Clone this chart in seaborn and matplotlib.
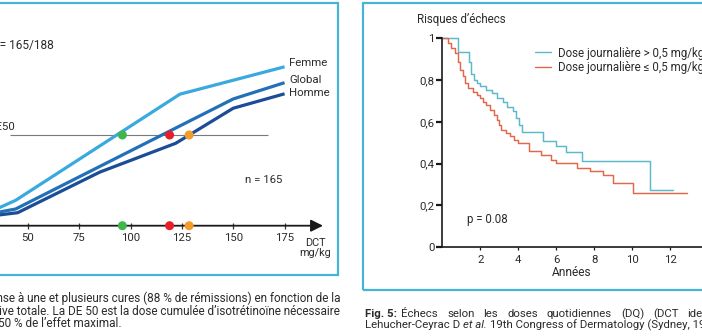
import numpy as np
import pandas as pd
import matplotlib
matplotlib.use("Agg")
import matplotlib.pyplot as plt
import seaborn as sns
from matplotlib.patches import Rectangle

# ---------------- Left chart (cumulative dose) data ----------------
dct_ticks = [50, 75, 100, 125, 150, 175]
femme_x = [30, 44, 124, 175]
femme_y = [6.0, 12.3, 63.8, 77.1]
global_x = [30, 44, 150, 175]
global_y = [5.5, 8.1, 61.5, 69.4]
homme_x = [30, 45, 85, 122, 150, 175]
homme_y = [4.5, 6.3, 26.0, 40.0, 57.0, 64.0]
series_names = ["Femme", "Global", "Homme"]
de50_level = 44
de50_doses = [96, 119, 128.5]

# ---------------- Right chart (Kaplan-Meier) data ----------------
high_t = [0, 0.84, 1.38, 1.52, 1.65, 1.8, 2.0, 2.3, 2.6, 2.9, 3.2, 3.4, 3.7,
          3.9, 4.05, 4.2, 5.3, 6.0, 6.5, 7.33, 10.93, 12.16]
high_s = [1.0, 0.936, 0.888, 0.83, 0.80, 0.785, 0.77, 0.753, 0.737, 0.714,
          0.697, 0.673, 0.65, 0.618, 0.586, 0.552, 0.506, 0.483, 0.456, 0.414,
          0.273, 0.273]
low_t = [0, 0.3, 0.47, 0.65, 0.84, 0.93, 1.1, 1.2, 1.37, 1.63, 1.8, 2.0, 2.15,
         2.3, 2.5, 2.7, 2.9, 3.0, 3.1, 3.35, 3.55, 3.75, 4.0, 4.55, 5.2, 5.7,
         6.0, 7.07, 7.77, 8.47, 9.0, 10.05, 12.86]
low_s = [1.0, 0.976, 0.952, 0.928, 0.888, 0.849, 0.817, 0.785, 0.761, 0.745,
         0.729, 0.714, 0.697, 0.682, 0.658, 0.634, 0.61, 0.586, 0.562, 0.547,
         0.53, 0.515, 0.499, 0.459, 0.443, 0.419, 0.403, 0.379, 0.363, 0.347,
         0.308, 0.257, 0.257]
km_labels = ["Dose journalière > 0,5 mg/kg", "Dose journalière ≤ 0,5 mg/kg"]
year_ticks = [2, 4, 6, 8, 10, 12]
risk_ticks = [0, 0.2, 0.4, 0.6, 0.8, 1.0]
risk_labels = ["0", "0,2", "0,4", "0,6", "0,8", "1"]

# ---------------- styling ----------------
sns.set_theme(style="white")
plt.rcParams["font.family"] = ["Roboto", "DejaVu Sans"]
plt.rcParams["text.color"] = "#2b2b2b"

W, H = 702, 336
fig = plt.figure(figsize=(W / 100, H / 100), dpi=100)
fig.patch.set_facecolor("white")
renderer = fig.canvas.get_renderer()

def fx(px):
    return px / W

def fy(py):
    return 1 - py / H

CAP = 8.2
CAP_L = 8.5
FRAME = "#45b4d5"
line_pal = {"Femme": "#39a9df", "Global": "#2170b8", "Homme": "#1b4c96"}
dot_pal = {"Femme": "#3db64b", "Global": "#e81f2a", "Homme": "#f59b2c"}

# frames
fig.add_artist(Rectangle((fx(-6), fy(275)), fx(338 + 6), 272 / H,
                         transform=fig.transFigure, fill=False,
                         ec=FRAME, lw=1.6))
fig.add_artist(Rectangle((fx(363), fy(290)), fx(360), 287 / H,
                         transform=fig.transFigure, fill=False,
                         ec=FRAME, lw=1.6))

# ---------------- left axes ----------------
ax1 = fig.add_axes([0, fy(225.7), 340 / W, 206.1 / H])
ax1.set_facecolor("none")
ax1.set_xlim(36.4, 202.0)
ax1.set_ylim(0, 100)
for sp in ax1.spines.values():
    sp.set_visible(False)

df_lines = pd.concat([
    pd.DataFrame({"dct": femme_x, "pct": femme_y, "serie": "Femme"}),
    pd.DataFrame({"dct": global_x, "pct": global_y, "serie": "Global"}),
    pd.DataFrame({"dct": homme_x, "pct": homme_y, "serie": "Homme"}),
])
sns.lineplot(data=df_lines, x="dct", y="pct", hue="serie", palette=line_pal,
             estimator=None, sort=False, lw=2.3, legend=False, ax=ax1,
             solid_capstyle="butt")

ax1.hlines(de50_level, 41.3, 166.9, color="#7a7a7a", lw=0.8, zorder=1)

df_dots = pd.DataFrame({"dct": de50_doses * 2,
                        "pct": [de50_level] * 3 + [0] * 3,
                        "serie": series_names * 2})
sns.scatterplot(data=df_dots, x="dct", y="pct", hue="serie", palette=dot_pal,
                s=42, edgecolor="none", legend=False, ax=ax1, zorder=6)
for c in ax1.collections:
    c.set_clip_on(False)

ax1.annotate("", xy=(193.7, 0), xytext=(36.4, 0),
             arrowprops=dict(arrowstyle="-|>,head_length=0.72,head_width=0.36",
                             mutation_scale=10, lw=1.3, color="#1a1a1a",
                             shrinkA=0, shrinkB=0),
             annotation_clip=False, zorder=4)
ax1.set_xticks(dct_ticks)
ax1.set_xticklabels([str(t) for t in dct_ticks])
ax1.set_yticks([])
ax1.tick_params(axis="x", direction="inout", length=4, width=0.9,
                colors="#333333", labelsize=8.2, pad=3.5, bottom=True)
for lab in ax1.get_xticklabels():
    lab.set_color("#2b2b2b")
ax1.set_xlabel("")
ax1.set_ylabel("")

fig.text(fx(289), fy(63.5), "Femme", fontsize=8.2, va="center", ha="left")
fig.text(fx(289), fy(80), "Global", fontsize=8.2, va="center", ha="left")
fig.text(fx(289), fy(92.5), "Homme", fontsize=8.2, va="center", ha="left")
fig.text(fx(53.5), fy(45), "n = 165/188", fontsize=8.6, va="center", ha="right")
fig.text(fx(14.5), fy(127.5), "DE50", fontsize=8.2, va="center", ha="right")
fig.text(fx(245), fy(180), "n = 165", fontsize=8.2, va="center", ha="left")
fig.text(fx(315), fy(243.5), "DCT", fontsize=7.8, va="center", ha="center")
fig.text(fx(315), fy(253.5), "mg/kg", fontsize=7.8, va="center", ha="center")

# left caption
fig.text(fx(340), fy(298.3),
         "Réponse à une et plusieurs cures (88 % de rémissions) en fonction de la",
         fontsize=CAP_L, va="center", ha="right")
fig.text(fx(340), fy(311.5),
         "cumulative totale. La DE 50 est la dose cumulée d’isotrétinoïne nécessaire",
         fontsize=CAP_L, va="center", ha="right")
fig.text(fx(-1.5), fy(323.5), "50 % de l’effet maximal.",
         fontsize=CAP_L, va="center", ha="left")

# ---------------- right axes ----------------
ax2 = fig.add_axes([fx(442.3), fy(247), (W - 442.3) / W, (247 - 38.3) / H])
ax2.set_facecolor("none")
ax2.set_xlim(0, (W - 442.3) / 19.0)
ax2.set_ylim(0, 1)

df_km = pd.concat([
    pd.DataFrame({"t": high_t, "s": high_s, "grp": km_labels[0]}),
    pd.DataFrame({"t": low_t, "s": low_s, "grp": km_labels[1]}),
])
sns.lineplot(data=df_km, x="t", y="s", hue="grp",
             palette={km_labels[0]: "#5cb9c9", km_labels[1]: "#e0674a"},
             estimator=None, sort=False, drawstyle="steps-post", lw=1.05,
             ax=ax2)
for ln in ax2.lines:
    ln.set_clip_on(False)

for side in ["top", "right"]:
    ax2.spines[side].set_visible(False)
for side in ["left", "bottom"]:
    ax2.spines[side].set_color("#1a1a1a")
    ax2.spines[side].set_linewidth(1.2)

ax2.set_xticks(year_ticks)
ax2.set_xticklabels([str(t) for t in year_ticks])
ax2.set_yticks(risk_ticks)
ax2.set_yticklabels(risk_labels)
ax2.tick_params(axis="y", direction="out", length=4, width=1.6,
                colors="#1a1a1a", labelsize=8.2, pad=1.5, left=True)
ax2.tick_params(axis="x", direction="out", length=2.5, width=0.9,
                colors="#1a1a1a", labelsize=8.2, pad=3, bottom=True)
for lab in ax2.get_xticklabels() + ax2.get_yticklabels():
    lab.set_color("#2b2b2b")
ax2.set_xlabel("Années", fontsize=8.6, labelpad=1, color="#2b2b2b")
ax2.set_ylabel("")

leg = ax2.legend(loc="upper left", bbox_to_anchor=(fx(535), fy(46.5)),
                 bbox_transform=fig.transFigure, frameon=False, fontsize=8.3,
                 handlelength=1.35, handletextpad=0.65, labelspacing=0.12,
                 borderpad=0, borderaxespad=0)
for h in leg.get_lines():
    h.set_linewidth(1.0)

fig.text(fx(416.7), fy(20), "Risques d’échecs", fontsize=8.3, va="center", ha="left")
fig.text(fx(466.7), fy(220), "p = 0.08", fontsize=8.3, va="center", ha="left")

# right caption, line 1 (justified: wide word gaps)
x_cur = 365.0
for i, word in enumerate(["Fig. 5:", "Échecs", "selon", "les", "doses",
                          "quotidiennes", "(DQ)", "(DCT", "identiques)"]):
    t = fig.text(fx(x_cur), fy(314), word, fontsize=CAP,
                 fontweight="bold" if i == 0 else "normal",
                 va="center", ha="left")
    bb = t.get_window_extent(renderer)
    x_cur = bb.x1 + (4.5 if i == 0 else 9.0)

# right caption, line 2 (flowing pieces with mixed styles)
x_cur = 365.0
for piece, sty in [("Lehucher-Ceyrac D", "normal"), ("et al.", "italic"),
                   ("19th Congress of Dermatology (Sydney, 1997).", "normal")]:
    t = fig.text(fx(x_cur), fy(325), piece, fontsize=CAP, style=sty,
                 va="center", ha="left")
    bb = t.get_window_extent(renderer)
    x_cur = bb.x1 + 3.0

fig.savefig("out.png", dpi=100, facecolor="white")
